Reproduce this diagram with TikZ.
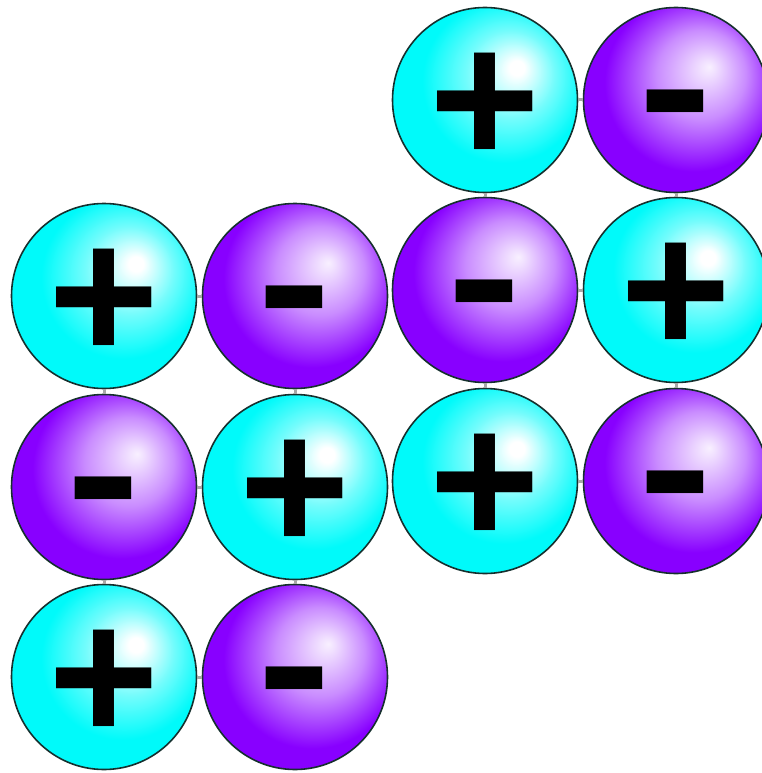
\documentclass[tikz,border=0pt]{standalone}
\usepackage{fontspec}
\setmainfont{Liberation Sans}
\usetikzlibrary{positioning,backgrounds}
\definecolor{cyanion}{RGB}{0,250,250}
\definecolor{violetion}{RGB}{136,0,255}
\definecolor{rim}{HTML}{16302E}
\definecolor{bond}{HTML}{A8A8A8}
\pgfdeclareradialshading{cyanball}{\pgfpoint{9bp}{9bp}}{%
  color(0bp)=(white); color(2bp)=(white);
  color(12bp)=(cyanion!55!white); color(22bp)=(cyanion);
  color(50bp)=(cyanion)}
\pgfdeclareradialshading{violetball}{\pgfpoint{9bp}{9bp}}{%
  color(0bp)=(violetion!6!white); color(2bp)=(violetion!12!white);
  color(12bp)=(violetion!45!white); color(24bp)=(violetion);
  color(50bp)=(violetion)}
\newcommand{\minussign}{\scalebox{1.17}[1]{-}}

\begin{document}
\begin{tikzpicture}[x=1pt,y=-1pt,
  ion/.style={circle,draw=rim,line width=1.6pt,minimum size=185pt,inner sep=0pt,
    text depth=0pt,font=\fontsize{190}{190}\selectfont\bfseries},
  cation/.style={ion,shading=cyanball,text height=128pt},
  anion/.style={ion,shading=violetball,text height=100pt},
  link/.style={draw=bond,line width=3pt}]
\useasboundingbox (0,0) rectangle (762,773);
% left block
\node[cation] (l11) at (104,296) {+};
\node[anion]  (l12) at (295,296) {\minussign};
\node[anion]  (l21) at (104,487) {\minussign};
\node[cation] (l22) at (295,487) {+};
\node[cation] (l31) at (104,677) {+};
\node[anion]  (l32) at (295,677) {\minussign};
% right block
\node[cation] (r11) at (485,100) {+};
\node[anion]  (r12) at (676,100) {\minussign};
\node[anion]  (r21) at (485,290) {\minussign};
\node[cation] (r22) at (676,290) {+};
\node[cation] (r31) at (485,481) {+};
\node[anion]  (r32) at (676,481) {\minussign};
% bonds
\draw[link] (l11) -- (l12) (l21) -- (l22) (l31) -- (l32)
  (l11) -- (l21) (l21) -- (l31) (l12) -- (l22) (l22) -- (l32);
\draw[link] (r11) -- (r12) (r21) -- (r22) (r31) -- (r32)
  (r11) -- (r21) (r21) -- (r31) (r12) -- (r22) (r22) -- (r32);
\end{tikzpicture}
\end{document}
